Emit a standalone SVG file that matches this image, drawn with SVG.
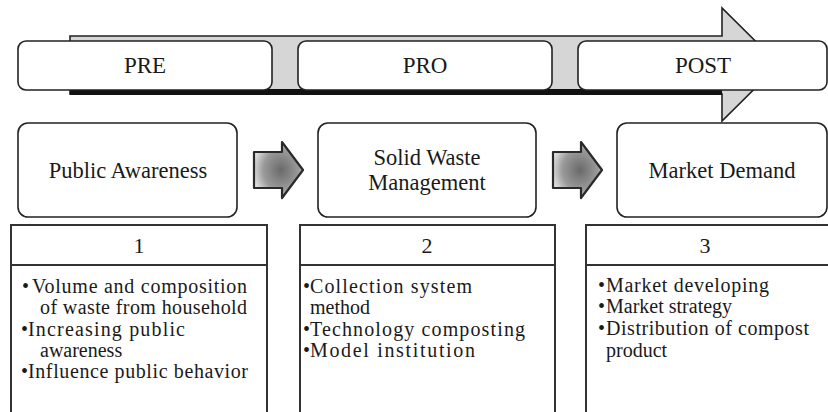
<svg xmlns="http://www.w3.org/2000/svg" width="828" height="412" viewBox="0 0 828 412">
<defs>
<radialGradient id="ag" cx="0.55" cy="0.5" r="0.6">
<stop offset="0" stop-color="#6a6a6a"/>
<stop offset="0.6" stop-color="#9a9a9a"/>
<stop offset="1" stop-color="#e6e6e6"/>
</radialGradient>
<style>
text{font-family:"Liberation Serif","Times New Roman",serif;fill:#1a1a1a}
.phase{fill:#fff;stroke:#222;stroke-width:1.6}
.lbl{font-size:23px;text-anchor:middle}
.mid{fill:#fff;stroke:#222;stroke-width:1.6}
.mlbl{font-size:22.5px;text-anchor:middle}
.tbl{fill:#fff;stroke:#333;stroke-width:2}
.num{font-size:22px;text-anchor:middle}
.b{font-size:20px}
.sa{fill:url(#ag);stroke:#2a2a2a;stroke-width:2.2;stroke-linejoin:round}
</style>
</defs>
<rect width="828" height="412" fill="#fff"/>
<g id="timeline">
<path d="M70,36 H722 V8 L779,64.5 L722,121 V94 H70 Z" fill="#d6d6d6" stroke="#222" stroke-width="1.6"/>
<rect x="70" y="89" width="652" height="6" fill="#111"/>
</g>
<g id="pre">
<rect class="phase" x="18" y="41" width="254" height="49" rx="8"/>
<text class="lbl" x="145" y="73">PRE</text>
</g>
<g id="pro">
<rect class="phase" x="298" y="41" width="254" height="49" rx="8"/>
<text class="lbl" x="425" y="73">PRO</text>
</g>
<g id="post">
<rect class="phase" x="578" y="41" width="249" height="49" rx="8"/>
<text class="lbl" x="703" y="73">POST</text>
</g>
<g id="public-awareness">
<rect class="mid" x="18" y="123" width="219" height="94" rx="10"/>
<text class="mlbl" x="128" y="178">Public Awareness</text>
</g>
<g id="solid-waste">
<rect class="mid" x="318" y="123" width="218" height="94" rx="10"/>
<text class="mlbl" x="427" y="165">Solid Waste</text>
<text class="mlbl" x="427" y="190">Management</text>
</g>
<g id="market-demand">
<rect class="mid" x="617" y="123" width="210" height="94" rx="10"/>
<text class="mlbl" x="722" y="178">Market Demand</text>
</g>
<g id="connectors">
<path class="sa" d="M254,152 H282 V142 L303,170 L282,198 V188 H254 Z"/>
<path class="sa" d="M553,152 H581 V142 L602,170 L581,198 V188 H553 Z"/>
</g>
<g id="box1">
<rect class="tbl" x="11" y="225" width="256" height="200"/>
<line x1="11" y1="265" x2="267" y2="265" stroke="#333" stroke-width="2"/>
<text class="num" x="139" y="253">1</text>
<text class="b" x="22" y="293">•</text>
<text class="b" x="32" y="293" textLength="215">Volume and composition</text>
<text class="b" x="40" y="314" textLength="207">of waste from household</text>
<text class="b" x="21" y="336">•</text>
<text class="b" x="28" y="336" textLength="157">Increasing public</text>
<text class="b" x="40" y="357">awareness</text>
<text class="b" x="21" y="378">•</text>
<text class="b" x="28" y="378" textLength="220">Influence public behavior</text>
</g>
<g id="box2">
<rect class="tbl" x="300" y="225" width="255" height="200"/>
<line x1="300" y1="265" x2="555" y2="265" stroke="#333" stroke-width="2"/>
<text class="num" x="427" y="253">2</text>
<text class="b" x="303" y="293">•</text>
<text class="b" x="310" y="293" textLength="162">Collection system</text>
<text class="b" x="310" y="314">method</text>
<text class="b" x="303" y="336">•</text>
<text class="b" x="310" y="336" textLength="215">Technology composting</text>
<text class="b" x="303" y="357">•</text>
<text class="b" x="310" y="357" textLength="165">Model institution</text>
</g>
<g id="box3">
<rect class="tbl" x="586" y="225" width="250" height="200"/>
<line x1="586" y1="265" x2="836" y2="265" stroke="#333" stroke-width="2"/>
<text class="num" x="705" y="253">3</text>
<text class="b" x="598" y="292">•</text>
<text class="b" x="606" y="292" textLength="163">Market developing</text>
<text class="b" x="598" y="313">•</text>
<text class="b" x="606" y="313">Market strategy</text>
<text class="b" x="598" y="335">•</text>
<text class="b" x="606" y="335" textLength="203">Distribution of compost</text>
<text class="b" x="606" y="357">product</text>
</g>
</svg>
